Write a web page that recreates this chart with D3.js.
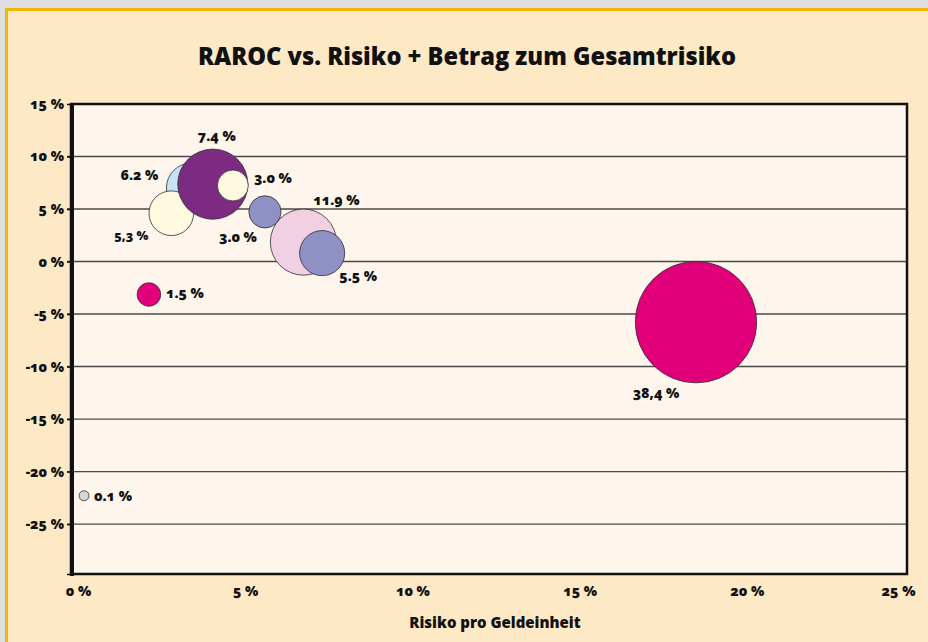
<!DOCTYPE html>
<html lang="de">
<head>
<meta charset="utf-8">
<title>RAROC vs. Risiko</title>
<script src="https://d3js.org/d3.v7.min.js"></script>
<style>
  html, body { margin: 0; padding: 0; background: #fde9c6; overflow: hidden; width: 928px; height: 642px; }
  svg { display: block; }
  text {
    font-family: "Open Sans", "Noto Sans", sans-serif;
    font-weight: 800;
    fill: #111;
    font-variant-numeric: oldstyle-nums;
  }
  .grid line { stroke: #4a4a4a; stroke-width: 1.4px; }
  .bubble { stroke: #2f2f2f; stroke-width: 0.8px; }
</style>
</head>
<body>
<script>
// data (draw order = array order)
const risk   = [3.6, 3.0, 4.24, 4.84, 5.8, 6.95, 7.51, 2.33, 0.39, 18.69];   // Risiko pro Geldeinheit, %
const raroc  = [7.0, 4.6, 7.37, 7.24, 4.73, 1.85, 0.8, -3.14, -22.3, -5.77]; // RAROC, %
const share  = [6.5, 5.2, 12.8, 2.5, 2.7, 11.4, 5.3, 1.45, 0.26, 38.4];      // bubble size (Betrag zum Gesamtrisiko)
const labels = ["6.2 %", "5,3 %", "7.4 %", "3.0 %", "3.0 %", "11.9 %", "5.5 %", "1.5 %", "0.1 %", "38,4 %"];
const colors = ["#c6e3f5", "#fff9e0", "#7d2a83", "#fff9e0", "#8f90c3", "#f0d0e2", "#8f90c3", "#e2007a", "#d6d6d8", "#e2007a"];
const xTicks = [0, 5, 10, 15, 20, 25];
const yTicks = [15, 10, 5, 0, -5, -10, -15, -20, -25];

// label placement relative to bubble centre (layout only)
const labelDx = [-52, -40, 4, 40, -27, 33, 36, 36, 29, -40];
const labelDy = [-13, 22, -48, -7, 25, -42, 23, -1, 0, 71];

const W = 928, H = 642;
const plot = {left: 71, right: 907, top: 104, bottom: 574};

const svg = d3.select("body").append("svg")
  .attr("width", W).attr("height", H);

// page background strips and panel border (top and left only are visible)
svg.append("rect").attr("x", 0).attr("y", 0).attr("width", W).attr("height", H).attr("fill", "#fde9c6");
svg.append("rect").attr("x", 0).attr("y", 0).attr("width", W).attr("height", 8).attr("fill", "#dcdee0");
svg.append("rect").attr("x", 0).attr("y", 0).attr("width", 5).attr("height", H).attr("fill", "#dcdee0");
svg.append("path")
  .attr("d", `M6.5,${H}V9.5H${W}`)
  .attr("fill", "none").attr("stroke", "#f5b400").attr("stroke-width", 3);

svg.append("text")
  .attr("x", 467).attr("y", 65)
  .attr("text-anchor", "middle")
  .attr("font-size", 24)
  .attr("textLength", 538).attr("lengthAdjust", "spacingAndGlyphs")
  .text("RAROC vs. Risiko + Betrag zum Gesamtrisiko");

const x = d3.scaleLinear().domain([0, 25]).range([plot.left, plot.right]);
const y = d3.scaleLinear().domain([-29.75, 15]).range([plot.bottom, plot.top]);
const r = d3.scaleSqrt().domain([0, 38.4]).range([0, 60.7]);

svg.append("rect")
  .attr("x", plot.left).attr("y", plot.top)
  .attr("width", plot.right - plot.left).attr("height", plot.bottom - plot.top)
  .attr("fill", "#fef6ec");

// gridlines
svg.append("g").attr("class", "grid")
  .selectAll("line")
  .data(yTicks.filter(d => d < 15))
  .join("line")
  .attr("x1", plot.left - 4).attr("x2", plot.right)
  .attr("y1", d => y(d)).attr("y2", d => y(d));

// bubbles
const idx = d3.range(risk.length);
svg.append("g")
  .selectAll("circle")
  .data(idx)
  .join("circle")
  .attr("class", "bubble")
  .attr("cx", i => x(risk[i]))
  .attr("cy", i => y(raroc[i]))
  .attr("r", i => r(share[i]))
  .attr("fill", i => colors[i]);

svg.append("g")
  .selectAll("text")
  .data(idx)
  .join("text")
  .attr("x", i => x(risk[i]) + labelDx[i])
  .attr("y", i => y(raroc[i]) + labelDy[i])
  .attr("dy", "0.35em")
  .attr("text-anchor", "middle")
  .attr("font-size", i => labels[i] === "5,3 %" ? 12.5 : 14)
  .text(i => labels[i]);

// frame
svg.append("rect")
  .attr("x", plot.left).attr("y", plot.top)
  .attr("width", plot.right - plot.left).attr("height", plot.bottom - plot.top)
  .attr("fill", "none").attr("stroke", "#111").attr("stroke-width", 2.5);
svg.append("line")
  .attr("x1", plot.left + 1).attr("x2", plot.left + 1)
  .attr("y1", plot.top).attr("y2", plot.bottom + 2)
  .attr("stroke", "#111").attr("stroke-width", 4);

// axes
const yAxis = svg.append("g")
  .attr("transform", `translate(${plot.left},0)`)
  .call(d3.axisLeft(y).tickValues(yTicks.concat([-29.75])).tickSize(4)
    .tickFormat(d => yTicks.includes(d) ? d + " %" : ""));
yAxis.select(".domain").remove();
yAxis.selectAll(".tick line").attr("stroke", "#111").attr("stroke-width", 1.5);
yAxis.selectAll(".tick text")
  .attr("x", -7).attr("font-size", 14)
  .attr("font-family", null).attr("fill", null);

const xAxis = svg.append("g")
  .attr("transform", `translate(0,${plot.bottom})`)
  .call(d3.axisBottom(x).tickValues(xTicks).tickSize(0)
    .tickFormat(d => d + " %"));
xAxis.select(".domain").remove();
xAxis.selectAll(".tick text")
  .attr("dx", d => d === 25 ? -9 : 7).attr("y", 12)
  .attr("font-size", 14)
  .attr("font-family", null).attr("fill", null);

svg.append("text")
  .attr("x", 495).attr("y", 628)
  .attr("text-anchor", "middle")
  .attr("font-size", 15)
  .text("Risiko pro Geldeinheit");
</script>
</body>
</html>
